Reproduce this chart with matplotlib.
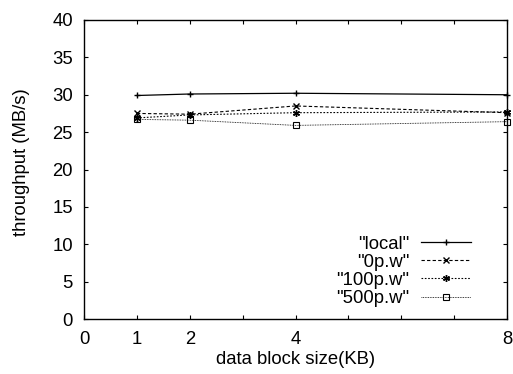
import matplotlib
matplotlib.use("Agg")
import matplotlib.pyplot as plt

plt.rcParams['font.family'] = ['Liberation Sans', 'DejaVu Sans']
plt.rcParams['font.size'] = 13.3

block_kb = [1, 2, 4, 8]
local = [29.9, 30.1, 30.2, 30.0]
p0 = [27.5, 27.4, 28.5, 27.6]
p100 = [26.9, 27.3, 27.6, 27.7]
p500 = [26.7, 26.6, 25.9, 26.4]

fig = plt.figure(figsize=(5.13, 3.74), dpi=100)
ax = fig.add_axes([84/513, 1-319/374, (507-84)/513, (319-20)/374])

ax.plot(block_kb, local, color="black", linestyle="-", linewidth=0.9, marker="+", markersize=5,
        clip_on=False, label='"local"')
ax.plot(block_kb, p0, color="black", linestyle=(0, (3, 2)), linewidth=0.8, marker="x", markersize=4,
        clip_on=False, label='"0p.w"')
ax.plot(block_kb, p100, color="black", linestyle=(0, (1.5, 1.5)), linewidth=0.8, marker=(6, 2, 0), markersize=5,
        clip_on=False, label='"100p.w"')
ax.plot(block_kb, p500, color="black", linestyle=(0, (1, 1)), linewidth=0.6, marker="s", markersize=4,
        markerfacecolor="none", markeredgewidth=0.8, clip_on=False, label='"500p.w"')

ax.set_xlim(0, 8)
ax.set_ylim(0, 40)
ax.set_xticks([0, 1, 2, 4, 8])
ax.set_xticks([3, 5, 6, 7], minor=True)
ax.set_yticks(range(0, 41, 5))
ax.tick_params(which="both", direction="in", top=True, right=True, length=3, width=0.8)
ax.tick_params(axis="x", pad=9)
ax.tick_params(axis="y", pad=8)
for s in ax.spines.values():
    s.set_linewidth(1.0)

ax.set_xlabel("data block size(KB)")
ax.set_ylabel("throughput (MB/s)")
ax.xaxis.set_label_coords(0.5, -0.108)
ax.yaxis.set_label_coords(-0.128, 0.525)

ax.legend(loc="lower right", frameon=False, markerfirst=False, handlelength=2.7,
          handletextpad=0.65, labelspacing=0.06, borderpad=0, borderaxespad=0,
          bbox_to_anchor=(0.915, 0.04))

fig.savefig("out.png", dpi=100)
